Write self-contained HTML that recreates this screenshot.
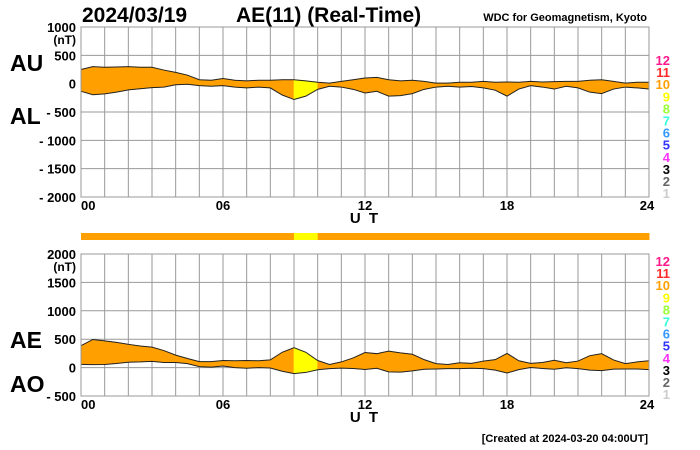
<!DOCTYPE html>
<html><head><meta charset="utf-8"><style>
body{margin:0;background:#fff;}
svg{display:block;font-family:"Liberation Sans",sans-serif;}
</style></head><body>
<svg id="c" width="700" height="450" xmlns="http://www.w3.org/2000/svg"></svg>
<script>
// half-hour samples, 0..24h
const hours = [0,0.5,1,1.5,2,2.5,3,3.5,4,4.5,5,5.5,6,6.5,7,7.5,8,8.5,9,9.5,10,10.5,11,11.5,12,12.5,13,13.5,14,14.5,15,15.5,16,16.5,17,17.5,18,18.5,19,19.5,20,20.5,21,21.5,22,22.5,23,23.5,24];
const auValues = [250,300,290,295,300,290,290,240,200,150,70,60,90,60,50,60,60,70,70,50,25,10,40,70,100,110,70,50,60,40,10,10,25,25,40,25,30,25,40,30,35,40,40,60,70,40,10,25,25];
const alValues = [-135,-195,-180,-150,-110,-90,-70,-60,-20,-10,-35,-45,-35,-60,-75,-60,-75,-200,-280,-220,-100,-45,-60,-100,-165,-135,-220,-210,-175,-100,-60,-45,-60,-50,-75,-115,-220,-95,-35,-60,-95,-45,-75,-150,-175,-95,-60,-75,-95];
const stations = [10,10,10,10,10,10,10,10,10,10,10,10,10,10,10,10,10,10,9,9,10,10,10,10,10,10,10,10,10,10,10,10,10,10,10,10,10,10,10,10,10,10,10,10,10,10,10,10,10];
const topTicks = [1000,500,0,-500,-1000,-1500,-2000];
const botTicks = [2000,1500,1000,500,0,-500];
const xTickLabels = ["00","06","12","18","24"];
const legendNums = [12,11,10,9,8,7,6,5,4,3,2,1];
const legendColors = ["#ff1a8c","#ff2a2a","#ffa000","#ffff00","#99ff33","#33ffdd","#3399ff","#3333ff","#ff33ff","#000000","#666666","#cccccc"];

const NS="http://www.w3.org/2000/svg", svg=document.getElementById('c');
function el(t,a,txt){const e=document.createElementNS(NS,t);for(const k in a)e.setAttribute(k,a[k]);if(txt!==undefined)e.textContent=txt;svg.appendChild(e);return e;}
const X0=81,X1=649;
const xs=h=>X0+(X1-X0)*h/24;
function yScale(top,bot,vmax,vmin){return v=>top+(bot-top)*(vmax-v)/(vmax-vmin);}
const yT=yScale(27,197,1000,-2000), yB=yScale(254,396,2000,-500);
const colorFor=n=>legendColors[legendNums.indexOf(n)];
const aeValues=auValues.map((u,i)=>u-alValues[i]);
const aoValues=auValues.map((u,i)=>(u+alValues[i])/2);

function panel(ys,ticks,hi,lo,top,bot,pref,upLab,loLab,upY,loY,legTop){
  for(let h=0;h<=24;h++){
    const g=el('line',{x1:xs(h),x2:xs(h),y1:top,y2:bot,stroke:'#999','stroke-width':1});
    
    
  }
  ticks.forEach((t,i)=>{
    const g=el('line',{x1:X0,x2:X1,y1:ys(t),y2:ys(t),stroke:'#999','stroke-width':1});
    
    
    const lab=(t<0?'- '+(-t):String(t));
    const tx=el('text',{x:76,y:ys(t)+5,'text-anchor':'end','font-size':13,'font-weight':'bold'},lab);
    
    
  });
  const u=el('text',{x:76,y:ys(ticks[0])+17,'text-anchor':'end','font-size':12,'font-weight':'bold'},'(nT)');
  
  
  for(let i=0;i<hours.length-1;i++){
    const p=[[xs(hours[i]),ys(hi[i])],[xs(hours[i+1]),ys(hi[i+1])],[xs(hours[i+1]),ys(lo[i+1])],[xs(hours[i]),ys(lo[i])]];
    const c=colorFor(stations[i]);
    const q=el('polygon',{points:p.map(a=>a.join(',')).join(' '),fill:c,stroke:c,'stroke-width':0.6});
    
    
  }
  [hi,lo].forEach((arr,k)=>{
    const l=el('polyline',{points:hours.map((h,i)=>xs(h)+','+ys(arr[i])).join(' '),fill:'none',stroke:'#222','stroke-width':1});
    
    
  });
  const fr=el('rect',{x:X0,y:top,width:X1-X0,height:bot-top,fill:'none',stroke:'#999'});
  
  
  xTickLabels.forEach((t,i)=>{
    const tx=el('text',{x:xs(i*6)+(i==4?-2:0),y:bot+13,'text-anchor':i==0?'start':'middle','font-size':13,'font-weight':'bold'},t);
    
    
  });
  const ut=el('text',{x:365,y:bot+26,'text-anchor':'middle','font-size':15,'font-weight':'bold','letter-spacing':'2'},'U T');
  
  
  const a=el('text',{x:10,y:upY,'font-size':23,'font-weight':'bold'},upLab);
  
  
  const b=el('text',{x:10,y:loY,'font-size':23,'font-weight':'bold'},loLab);
  
  
  legendNums.forEach((n,i)=>{
    const tx=el('text',{x:670,y:legTop+i*12.1,'text-anchor':'end','font-size':13,'font-weight':'bold',fill:legendColors[i]},String(n));
    
    
  });
}
panel(yT,topTicks,auValues,alValues,27,197,'top','AU','AL',71,124,65);
panel(yB,botTicks,aeValues,aoValues,254,396,'bottom','AE','AO',348,392,266);
for(let i=0;i<hours.length-1;i++){
  const r=el('rect',{x:xs(hours[i]),y:233,width:xs(hours[i+1])-xs(hours[i])+0.5,height:7,fill:colorFor(stations[i])});
  
  
}
const t1=el('text',{x:82,y:22,'font-size':21,'font-weight':'bold'},'2024/03/19');


const t2=el('text',{x:236,y:22,'font-size':21,'font-weight':'bold'},'AE(11) (Real-Time)');


const t3=el('text',{x:647,y:21,'text-anchor':'end','font-size':11,'font-weight':'bold'},'WDC for Geomagnetism, Kyoto');


const t4=el('text',{x:648,y:442,'text-anchor':'end','font-size':11,'font-weight':'bold'},'[Created at 2024-03-20 04:00UT]');


</script>
</body></html>
